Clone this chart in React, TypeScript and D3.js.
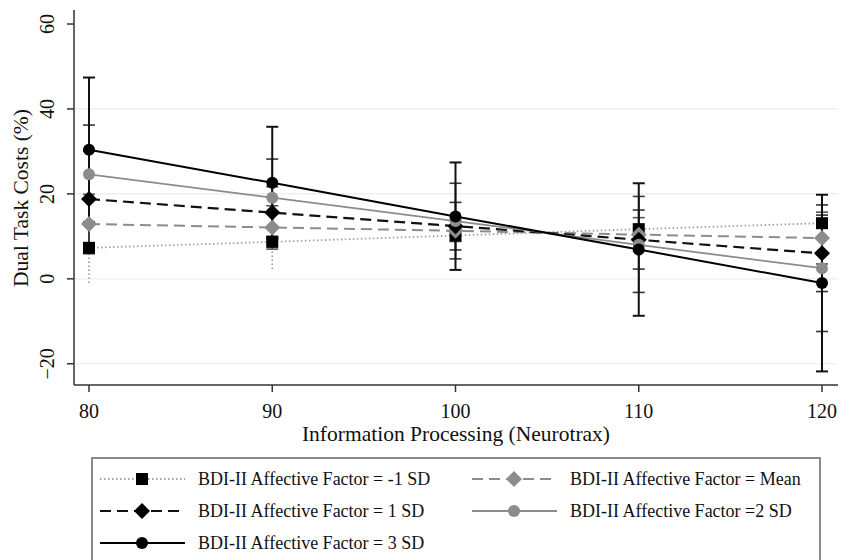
import React from "react";
import * as d3 from "d3";

const xValues = [80, 90, 100, 110, 120];
const xTicks = [80, 90, 100, 110, 120];
const yTicks = [-20, 0, 20, 40, 60];
const gridTicks = [-20, 0, 20, 40];

const seriesLabels = [
  "BDI-II Affective Factor = -1 SD",
  "BDI-II Affective Factor = Mean",
  "BDI-II Affective Factor = 1 SD",
  "BDI-II Affective Factor =2 SD",
  "BDI-II Affective Factor = 3 SD",
];

const minus1Values = [7.3, 8.7, 10.2, 11.7, 13.1];
const minus1Lower = [-1.0, 2.3, 5.5, 5.5, 8.0];
const minus1Upper = [15.6, 15.1, 14.9, 17.9, 18.2];

const meanValues = [12.9, 12.1, 11.3, 10.4, 9.6];
const meanLower = [5.9, 7.0, 8.8, 6.5, 3.5];
const meanUpper = [19.9, 17.2, 13.8, 14.4, 15.7];

const sd1Values = [18.8, 15.6, 12.4, 9.2, 6.0];
const sd1Lower = [7.5, 9.5, 6.8, 2.3, -3.0];
const sd1Upper = [30.1, 21.7, 18.0, 16.2, 15.0];

const sd2Values = [24.6, 19.1, 13.6, 8.0, 2.5];
const sd2Lower = [13.0, 10.0, 4.7, -3.2, -12.4];
const sd2Upper = [36.2, 28.2, 22.5, 19.4, 17.4];

const sd3Values = [30.4, 22.6, 14.7, 6.9, -1.0];
const sd3Lower = [13.4, 9.5, 2.1, -8.7, -21.8];
const sd3Upper = [47.4, 35.8, 27.4, 22.5, 19.8];

type Style = {
  color: string;
  dash: string;
  width: number;
  marker: "square" | "diamond" | "circle";
  ciColor: string;
  ciDash: string;
};

const styles: Style[] = [
  { color: "#a0a0a0", dash: "1.5 2.5", width: 1.8, marker: "square", ciColor: "#9a9a9a", ciDash: "1.5 2.5" },
  { color: "#8c8c8c", dash: "11 6", width: 2, marker: "diamond", ciColor: "#555", ciDash: "" },
  { color: "#111", dash: "11 6", width: 2.2, marker: "diamond", ciColor: "#333", ciDash: "" },
  { color: "#8c8c8c", dash: "", width: 1.8, marker: "circle", ciColor: "#3a3530", ciDash: "" },
  { color: "#000", dash: "", width: 2, marker: "circle", ciColor: "#111", ciDash: "" },
];
const markerFill = ["#000", "#8c8c8c", "#000", "#8c8c8c", "#000"];

const series = [
  { values: minus1Values, lower: minus1Lower, upper: minus1Upper },
  { values: meanValues, lower: meanLower, upper: meanUpper },
  { values: sd1Values, lower: sd1Lower, upper: sd1Upper },
  { values: sd2Values, lower: sd2Lower, upper: sd2Upper },
  { values: sd3Values, lower: sd3Lower, upper: sd3Upper },
];

const W = 851;
const H = 560;
const x = d3.scaleLinear().domain([80, 120]).range([89, 822]);
const y = d3.scaleLinear().domain([-25, 63.3]).range([385, 10]);
const axisLeftX = 74;
const axisRightX = 838;
const axisBottomY = 385;

function Marker({ kind, cx, cy, fill }: { kind: string; cx: number; cy: number; fill: string }) {
  if (kind === "square") {
    const s = 12;
    return <rect x={cx - s / 2} y={cy - s / 2} width={s} height={s} fill={fill} />;
  }
  if (kind === "diamond") {
    const r = 8;
    return (
      <path
        d={`M${cx},${cy - r}L${cx + r},${cy}L${cx},${cy + r}L${cx - r},${cy}Z`}
        fill={fill}
      />
    );
  }
  return <circle cx={cx} cy={cy} r={6} fill={fill} />;
}

export default function App() {
  const font = "'Liberation Serif', 'Times New Roman', serif";
  const line = d3
    .line<number>()
    .x((_, i) => x(xValues[i]))
    .y((v) => y(v));

  const legendRows = [
    { idx: 0, lx: 100, rowY: 479 },
    { idx: 1, lx: 472, rowY: 479 },
    { idx: 2, lx: 100, rowY: 511 },
    { idx: 3, lx: 472, rowY: 511 },
    { idx: 4, lx: 100, rowY: 543 },
  ];

  return (
    <svg
      width={W}
      height={H}
      style={{ position: "absolute", left: 0, top: 0, background: "#fff" }}
      fontFamily={font}
    >
      <rect x={0} y={0} width={W} height={H} fill="#fff" />
      {gridTicks.map((t) => (
        <line
          key={"g" + t}
          x1={axisLeftX}
          x2={axisRightX}
          y1={y(t)}
          y2={y(t)}
          stroke="#e6eeee"
          strokeWidth={1.2}
        />
      ))}
      <line x1={axisLeftX} x2={axisLeftX} y1={10} y2={axisBottomY} stroke="#333" strokeWidth={1.5} />
      <line x1={axisLeftX} x2={axisRightX} y1={axisBottomY} y2={axisBottomY} stroke="#333" strokeWidth={1.5} />
      {yTicks.map((t) => (
        <g key={"yt" + t}>
          <line x1={axisLeftX - 7} x2={axisLeftX} y1={y(t)} y2={y(t)} stroke="#333" strokeWidth={1.5} />
          <text
            transform={`translate(${axisLeftX - 20},${y(t)}) rotate(-90)`}
            textAnchor="middle"
            fontSize={20}
            fill="#111"
          >
            {t < 0 ? "\u2212" + Math.abs(t) : t}
          </text>
        </g>
      ))}
      {xTicks.map((t) => (
        <g key={"xt" + t}>
          <line x1={x(t)} x2={x(t)} y1={axisBottomY} y2={axisBottomY + 7} stroke="#333" strokeWidth={1.5} />
          <text x={x(t)} y={axisBottomY + 33} textAnchor="middle" fontSize={20} fill="#111">
            {t}
          </text>
        </g>
      ))}
      <text
        transform={`translate(28,198) rotate(-90)`}
        textAnchor="middle"
        fontSize={21.5}
        fill="#111"
      >
        Dual Task Costs (%)
      </text>
      <text x={456} y={441} textAnchor="middle" fontSize={21.5} fill="#111">
        Information Processing (Neurotrax)
      </text>

      {series.map((s, si) =>
        xValues.map((xv, i) => {
          const st = styles[si];
          const cx = x(xv);
          const w = si === 0 ? 0 : 6;
          return (
            <g key={`ci${si}-${i}`} stroke={st.ciColor} strokeWidth={si === 4 ? 2 : 1.6}>
              <line x1={cx} x2={cx} y1={y(s.lower[i])} y2={y(s.upper[i])} strokeDasharray={st.ciDash} />
              {w > 0 && <line x1={cx - w} x2={cx + w} y1={y(s.lower[i])} y2={y(s.lower[i])} />}
              {w > 0 && <line x1={cx - w} x2={cx + w} y1={y(s.upper[i])} y2={y(s.upper[i])} />}
            </g>
          );
        })
      )}

      {series.map((s, si) => (
        <path
          key={"l" + si}
          d={line(s.values) || ""}
          fill="none"
          stroke={styles[si].color}
          strokeWidth={styles[si].width}
          strokeDasharray={styles[si].dash}
        />
      ))}
      {series.map((s, si) =>
        s.values.map((v, i) => (
          <Marker
            key={`m${si}-${i}`}
            kind={styles[si].marker}
            cx={x(xValues[i])}
            cy={y(v)}
            fill={markerFill[si]}
          />
        ))
      )}

      <rect x={92} y={458} width={728} height={115} fill="#fff" stroke="#666" strokeWidth={1.5} />
      {legendRows.map((r) => {
        const st = styles[r.idx];
        return (
          <g key={"lg" + r.idx}>
            <line
              x1={r.lx}
              x2={r.lx + 85}
              y1={r.rowY}
              y2={r.rowY}
              stroke={st.color}
              strokeWidth={st.width}
              strokeDasharray={st.dash}
            />
            <Marker kind={st.marker} cx={r.lx + 42} cy={r.rowY} fill={markerFill[r.idx]} />
            <text x={r.lx + 98} y={r.rowY + 6} fontSize={18} fill="#111">
              {seriesLabels[r.idx]}
            </text>
          </g>
        );
      })}
    </svg>
  );
}
